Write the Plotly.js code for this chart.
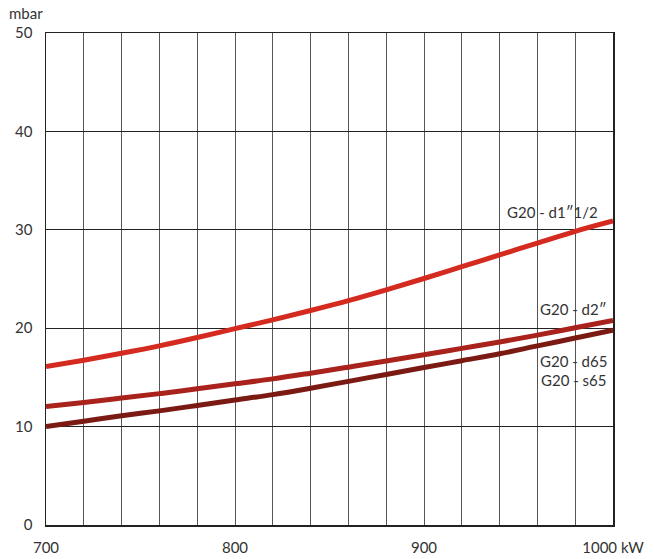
<!DOCTYPE html>
<html>
<head>
<meta charset="utf-8">
<script src="https://cdn.plot.ly/plotly-3.0.1.min.js"></script>
<style>html,body{margin:0;padding:0;background:#fff;}#chart{width:654px;height:559px;}</style>
</head>
<body>
<div id="chart"></div>
<script>
const powerKW = [700,720,740,760,780,800,820,840,860,880,900,920,940,960,980,1000];
const g20_d1_1_2 = [16.1,16.75,17.45,18.2,19.05,19.95,20.85,21.8,22.8,23.9,25.05,26.25,27.45,28.65,29.85,30.9];
const g20_d2 = [12.05,12.45,12.9,13.35,13.85,14.35,14.85,15.43,16.04,16.66,17.3,17.95,18.6,19.3,20.05,20.8];
const g20_d65_s65 = [10.0,10.55,11.1,11.6,12.15,12.7,13.25,13.9,14.6,15.3,16.0,16.7,17.4,18.2,19.0,19.8];
const xTickVals = powerKW;
const xTickText = ['700','','','','','800','','','','','900','','','','','1000 kW'];
const yTickVals = [0,10,20,30,40,50];
const labels = ['G20 - d1\u20331/2','G20 - d2\u2033','G20 - d65','G20 - s65'];

const font = 'Lato, "Noto Sans", sans-serif';
const traces = [
  {x: powerKW, y: g20_d1_1_2, mode:'lines', line:{color:'#d42a1f', width:5, shape:'spline', smoothing:1}},
  {x: powerKW, y: g20_d2, mode:'lines', line:{color:'#a9221b', width:5, shape:'spline', smoothing:1}},
  {x: powerKW, y: g20_d65_s65, mode:'lines', line:{color:'#7b1a13', width:5, shape:'spline', smoothing:1}}
];
const layout = {
  width:654, height:559,
  margin:{l:46, r:41, t:33, b:34},
  paper_bgcolor:'#fff', plot_bgcolor:'#fff',
  showlegend:false,
  font:{family:font, size:15, color:'#333'},
  xaxis:{range:[700,1000], tickvals:xTickVals, ticktext:xTickText, showgrid:true,
         gridcolor:'#555', gridwidth:1, zeroline:false, showline:true, linecolor:'#222',
         linewidth:1.5, mirror:true, ticks:'', ticklabelstandoff:8, fixedrange:true},
  yaxis:{range:[0,50], tickvals:yTickVals, showgrid:true, gridcolor:'#222', gridwidth:1,
         zeroline:false, showline:true, linecolor:'#222', linewidth:1.5, mirror:true,
         ticks:'', ticklabelstandoff:9, fixedrange:true},
  annotations:[
    {text:'mbar', xref:'paper', yref:'paper', x:-0.068, y:1.0, xanchor:'left', yanchor:'bottom', yshift:9, showarrow:false, font:{size:15,color:'#333'}},
    {text:labels[0], xref:'x', yref:'y', x:993, y:31.8, xanchor:'right', yanchor:'middle', showarrow:false, font:{size:15,color:'#333'}},
    {text:labels[1], xref:'x', yref:'y', x:998, y:22.0, xanchor:'right', yanchor:'middle', showarrow:false, font:{size:15,color:'#333'}},
    {text:labels[2], xref:'x', yref:'y', x:998, y:16.7, xanchor:'right', yanchor:'middle', showarrow:false, font:{size:15,color:'#333'}},
    {text:labels[3], xref:'x', yref:'y', x:998, y:14.7, xanchor:'right', yanchor:'middle', showarrow:false, font:{size:15,color:'#333'}}
  ]
};
Plotly.newPlot('chart', traces, layout, {staticPlot:true, displayModeBar:false});
</script>
</body>
</html>
